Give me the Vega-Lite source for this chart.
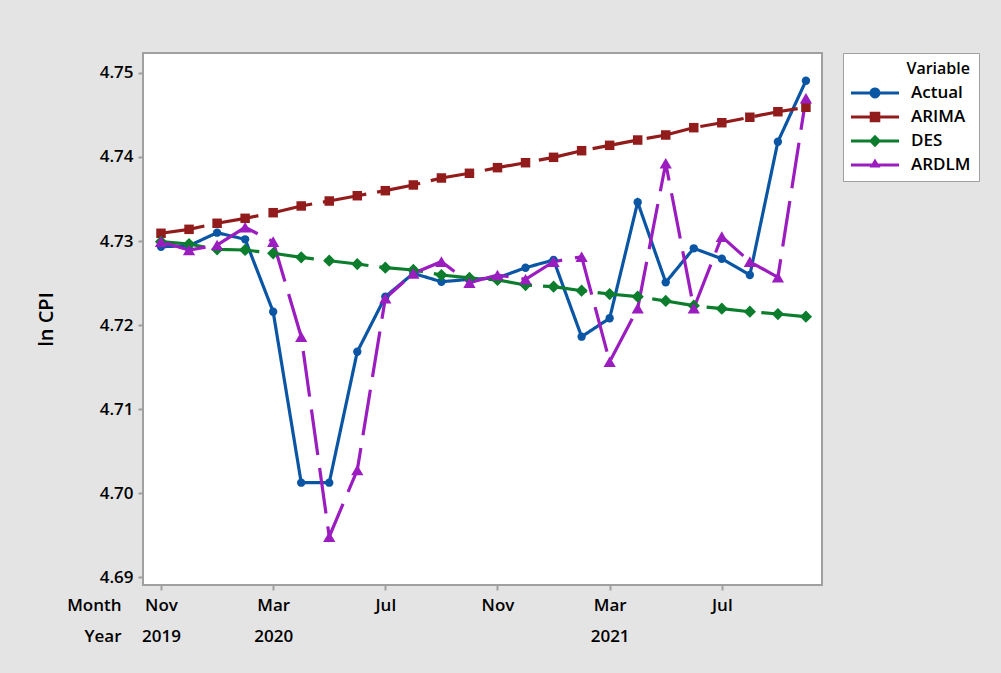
{
  "$schema": "https://vega.github.io/schema/vega-lite/v6.json",
  "autosize": {"type": "none"},
  "width": 679,
  "height": 532,
  "padding": {"left": 143, "top": 53, "right": 179, "bottom": 88},
  "background": "#e4e4e4",
  "config": {
    "view": {"stroke": "#a0a0a0", "strokeWidth": 2, "fill": "white"},
    "font": "Open Sans"
  },
  "datasets": {
    "cpi": [
      {"t": 0, "Date": "2019-11", "Variable": "Actual", "v": 4.72932},
      {"t": 1, "Date": "2019-12", "Variable": "Actual", "v": 4.72944},
      {"t": 2, "Date": "2020-01", "Variable": "Actual", "v": 4.73099},
      {"t": 3, "Date": "2020-02", "Variable": "Actual", "v": 4.73020},
      {"t": 4, "Date": "2020-03", "Variable": "Actual", "v": 4.72158},
      {"t": 5, "Date": "2020-04", "Variable": "Actual", "v": 4.70123},
      {"t": 6, "Date": "2020-05", "Variable": "Actual", "v": 4.70123},
      {"t": 7, "Date": "2020-06", "Variable": "Actual", "v": 4.71682},
      {"t": 8, "Date": "2020-07", "Variable": "Actual", "v": 4.72337},
      {"t": 9, "Date": "2020-08", "Variable": "Actual", "v": 4.72615},
      {"t": 10, "Date": "2020-09", "Variable": "Actual", "v": 4.72515},
      {"t": 11, "Date": "2020-10", "Variable": "Actual", "v": 4.72544},
      {"t": 12, "Date": "2020-11", "Variable": "Actual", "v": 4.72560},
      {"t": 13, "Date": "2020-12", "Variable": "Actual", "v": 4.72682},
      {"t": 14, "Date": "2021-01", "Variable": "Actual", "v": 4.72774},
      {"t": 15, "Date": "2021-02", "Variable": "Actual", "v": 4.71861},
      {"t": 16, "Date": "2021-03", "Variable": "Actual", "v": 4.72080},
      {"t": 17, "Date": "2021-04", "Variable": "Actual", "v": 4.73461},
      {"t": 18, "Date": "2021-05", "Variable": "Actual", "v": 4.72508},
      {"t": 19, "Date": "2021-06", "Variable": "Actual", "v": 4.72913},
      {"t": 20, "Date": "2021-07", "Variable": "Actual", "v": 4.72789},
      {"t": 21, "Date": "2021-08", "Variable": "Actual", "v": 4.72595},
      {"t": 22, "Date": "2021-09", "Variable": "Actual", "v": 4.74182},
      {"t": 23, "Date": "2021-10", "Variable": "Actual", "v": 4.74908},
      {"t": 0, "Date": "2019-11", "Variable": "ARIMA", "v": 4.73092},
      {"t": 1, "Date": "2019-12", "Variable": "ARIMA", "v": 4.73139},
      {"t": 2, "Date": "2020-01", "Variable": "ARIMA", "v": 4.73211},
      {"t": 3, "Date": "2020-02", "Variable": "ARIMA", "v": 4.73270},
      {"t": 4, "Date": "2020-03", "Variable": "ARIMA", "v": 4.73337},
      {"t": 5, "Date": "2020-04", "Variable": "ARIMA", "v": 4.73417},
      {"t": 6, "Date": "2020-05", "Variable": "ARIMA", "v": 4.73476},
      {"t": 7, "Date": "2020-06", "Variable": "ARIMA", "v": 4.73539},
      {"t": 8, "Date": "2020-07", "Variable": "ARIMA", "v": 4.73599},
      {"t": 9, "Date": "2020-08", "Variable": "ARIMA", "v": 4.73667},
      {"t": 10, "Date": "2020-09", "Variable": "ARIMA", "v": 4.73750},
      {"t": 11, "Date": "2020-10", "Variable": "ARIMA", "v": 4.73806},
      {"t": 12, "Date": "2020-11", "Variable": "ARIMA", "v": 4.73873},
      {"t": 13, "Date": "2020-12", "Variable": "ARIMA", "v": 4.73932},
      {"t": 14, "Date": "2021-01", "Variable": "ARIMA", "v": 4.73996},
      {"t": 15, "Date": "2021-02", "Variable": "ARIMA", "v": 4.74075},
      {"t": 16, "Date": "2021-03", "Variable": "ARIMA", "v": 4.74139},
      {"t": 17, "Date": "2021-04", "Variable": "ARIMA", "v": 4.74202},
      {"t": 18, "Date": "2021-05", "Variable": "ARIMA", "v": 4.74262},
      {"t": 19, "Date": "2021-06", "Variable": "ARIMA", "v": 4.74349},
      {"t": 20, "Date": "2021-07", "Variable": "ARIMA", "v": 4.74408},
      {"t": 21, "Date": "2021-08", "Variable": "ARIMA", "v": 4.74473},
      {"t": 22, "Date": "2021-09", "Variable": "ARIMA", "v": 4.74539},
      {"t": 23, "Date": "2021-10", "Variable": "ARIMA", "v": 4.74592},
      {"t": 0, "Date": "2019-11", "Variable": "DES", "v": 4.72992},
      {"t": 1, "Date": "2019-12", "Variable": "DES", "v": 4.72964},
      {"t": 2, "Date": "2020-01", "Variable": "DES", "v": 4.72901},
      {"t": 3, "Date": "2020-02", "Variable": "DES", "v": 4.72893},
      {"t": 4, "Date": "2020-03", "Variable": "DES", "v": 4.72854},
      {"t": 5, "Date": "2020-04", "Variable": "DES", "v": 4.72806},
      {"t": 6, "Date": "2020-05", "Variable": "DES", "v": 4.72765},
      {"t": 7, "Date": "2020-06", "Variable": "DES", "v": 4.72726},
      {"t": 8, "Date": "2020-07", "Variable": "DES", "v": 4.72682},
      {"t": 9, "Date": "2020-08", "Variable": "DES", "v": 4.72655},
      {"t": 10, "Date": "2020-09", "Variable": "DES", "v": 4.72595},
      {"t": 11, "Date": "2020-10", "Variable": "DES", "v": 4.72560},
      {"t": 12, "Date": "2020-11", "Variable": "DES", "v": 4.72536},
      {"t": 13, "Date": "2020-12", "Variable": "DES", "v": 4.72476},
      {"t": 14, "Date": "2021-01", "Variable": "DES", "v": 4.72456},
      {"t": 15, "Date": "2021-02", "Variable": "DES", "v": 4.72408},
      {"t": 16, "Date": "2021-03", "Variable": "DES", "v": 4.72369},
      {"t": 17, "Date": "2021-04", "Variable": "DES", "v": 4.72337},
      {"t": 18, "Date": "2021-05", "Variable": "DES", "v": 4.72286},
      {"t": 19, "Date": "2021-06", "Variable": "DES", "v": 4.72230},
      {"t": 20, "Date": "2021-07", "Variable": "DES", "v": 4.72194},
      {"t": 21, "Date": "2021-08", "Variable": "DES", "v": 4.72158},
      {"t": 22, "Date": "2021-09", "Variable": "DES", "v": 4.72131},
      {"t": 23, "Date": "2021-10", "Variable": "DES", "v": 4.72099},
      {"t": 0, "Date": "2019-11", "Variable": "ARDLM", "v": 4.72992},
      {"t": 1, "Date": "2019-12", "Variable": "ARDLM", "v": 4.72893},
      {"t": 2, "Date": "2020-01", "Variable": "ARDLM", "v": 4.72952},
      {"t": 3, "Date": "2020-02", "Variable": "ARDLM", "v": 4.73163},
      {"t": 4, "Date": "2020-03", "Variable": "ARDLM", "v": 4.72992},
      {"t": 5, "Date": "2020-04", "Variable": "ARDLM", "v": 4.71861},
      {"t": 6, "Date": "2020-05", "Variable": "ARDLM", "v": 4.69480},
      {"t": 7, "Date": "2020-06", "Variable": "ARDLM", "v": 4.70274},
      {"t": 8, "Date": "2020-07", "Variable": "ARDLM", "v": 4.72318},
      {"t": 9, "Date": "2020-08", "Variable": "ARDLM", "v": 4.72615},
      {"t": 10, "Date": "2020-09", "Variable": "ARDLM", "v": 4.72754},
      {"t": 11, "Date": "2020-10", "Variable": "ARDLM", "v": 4.72504},
      {"t": 12, "Date": "2020-11", "Variable": "ARDLM", "v": 4.72595},
      {"t": 13, "Date": "2020-12", "Variable": "ARDLM", "v": 4.72544},
      {"t": 14, "Date": "2021-01", "Variable": "ARDLM", "v": 4.72754},
      {"t": 15, "Date": "2021-02", "Variable": "ARDLM", "v": 4.72813},
      {"t": 16, "Date": "2021-03", "Variable": "ARDLM", "v": 4.71563},
      {"t": 17, "Date": "2021-04", "Variable": "ARDLM", "v": 4.72199},
      {"t": 18, "Date": "2021-05", "Variable": "ARDLM", "v": 4.73925},
      {"t": 19, "Date": "2021-06", "Variable": "ARDLM", "v": 4.72199},
      {"t": 20, "Date": "2021-07", "Variable": "ARDLM", "v": 4.73052},
      {"t": 21, "Date": "2021-08", "Variable": "ARDLM", "v": 4.72754},
      {"t": 22, "Date": "2021-09", "Variable": "ARDLM", "v": 4.72568},
      {"t": 23, "Date": "2021-10", "Variable": "ARDLM", "v": 4.74699}
    ]
  },
  "data": {"name": "cpi"},
  "encoding": {
    "x": {
      "field": "t",
      "type": "quantitative",
      "scale": {"domain": [-0.642, 23.573], "nice": false, "zero": false},
      "axis": {
        "values": [0, 4, 8, 12, 16, 20],
        "labelExpr": "datum.value == 0 ? ['Nov', '2019'] : datum.value == 4 ? ['Mar', '2020'] : datum.value == 8 ? ['Jul', ''] : datum.value == 12 ? ['Nov', ''] : datum.value == 16 ? ['Mar', '2021'] : ['Jul', '']",
        "labelLineHeight": 31,
        "labelFontSize": 17,
        "labelFontWeight": 600,
        "labelColor": "black",
        "labelPadding": 7,
        "labelOverlap": false,
        "labelFlush": false,
        "tickSize": 5,
        "tickWidth": 2,
        "tickColor": "#a0a0a0",
        "domain": false,
        "grid": false,
        "title": ["Month", "Year"],
        "titleX": -22,
        "titleY": 12,
        "titleAlign": "right",
        "titleBaseline": "top",
        "titleLineHeight": 31,
        "titleFontSize": 17,
        "titleFontWeight": 600,
        "titleColor": "black"
      }
    },
    "y": {
      "field": "v",
      "type": "quantitative",
      "scale": {"domain": [4.68905, 4.75238], "nice": false, "zero": false},
      "axis": {
        "values": [4.69, 4.7, 4.71, 4.72, 4.73, 4.74, 4.75],
        "format": ".2f",
        "labelFontSize": 17,
        "labelFontWeight": 600,
        "labelColor": "black",
        "labelPadding": 5,
        "tickSize": 5,
        "tickWidth": 2,
        "tickColor": "#a0a0a0",
        "domain": false,
        "grid": false,
        "title": "ln CPI",
        "titleFontSize": 20,
        "titleFontWeight": 600,
        "titleColor": "black",
        "titleX": -97,
        "titleY": 266,
        "titleAngle": -90,
        "titleAlign": "center",
        "titleBaseline": "middle"
      }
    }
  },
  "layer": [
    {
      "mark": {"type": "line", "strokeWidth": 3.2},
      "encoding": {
        "color": {
          "field": "Variable",
          "type": "nominal",
          "scale": {"domain": ["Actual", "ARIMA", "DES", "ARDLM"], "range": ["#0a56a4", "#921b1b", "#0b7d2c", "#9b1cbf"]},
          "legend": null
        },
        "strokeDash": {
          "field": "Variable",
          "type": "nominal",
          "scale": {"domain": ["Actual", "ARIMA", "DES", "ARDLM"], "range": [[1, 0], [44, 11], [44, 11], [46, 13]]},
          "legend": null
        }
      }
    },
    {
      "mark": {"type": "point", "filled": true, "opacity": 1},
      "encoding": {
        "color": {
          "field": "Variable",
          "type": "nominal",
          "scale": {"domain": ["Actual", "ARIMA", "DES", "ARDLM"], "range": ["#0a56a4", "#921b1b", "#0b7d2c", "#9b1cbf"]},
          "legend": null
        },
        "shape": {
          "field": "Variable",
          "type": "nominal",
          "scale": {"domain": ["Actual", "ARIMA", "DES", "ARDLM"], "range": ["circle", "square", "diamond", "triangle-up"]},
          "legend": null
        },
        "size": {
          "condition": [
            {"test": "datum.Variable == 'ARIMA'", "value": 90},
            {"test": "datum.Variable == 'DES'", "value": 150},
            {"test": "datum.Variable == 'ARDLM'", "value": 150}
          ],
          "value": 70
        }
      }
    },
    {
      "mark": {"type": "point", "filled": true, "opacity": 0},
      "encoding": {
        "color": {
          "field": "Variable",
          "type": "nominal",
          "scale": {"domain": ["Actual", "ARIMA", "DES", "ARDLM"], "range": ["#0a56a4", "#921b1b", "#0b7d2c", "#9b1cbf"]},
          "legend": {
            "orient": "none",
            "legendX": 700,
            "legendY": 0,
            "title": "Variable",
            "titleFontSize": 16,
            "titleFontWeight": 600,
            "titleColor": "black",
            "titleAnchor": "end",
            "titlePadding": 4,
            "labelFontSize": 17,
            "labelFontWeight": 600,
            "labelColor": "black",
            "symbolSize": 576,
            "symbolOffset": 12,
            "labelOffset": 24,
            "rowPadding": 4,
            "padding": 8,
            "fillColor": "white",
            "strokeColor": "#a0a0a0",
            "symbolOpacity": 1,
            "symbolStrokeWidth": 0,
            "encode": {"legend": {"strokeWidth": {"value": 2}}}
          }
        },
        "shape": {
          "field": "Variable",
          "type": "nominal",
          "scale": {
            "domain": ["Actual", "ARIMA", "DES", "ARDLM"],
            "range": [
              "M-2,-0.13H-0.44A0.46,0.46 0 0,1 0.44,-0.13H2V0.13H0.44A0.46,0.46 0 0,1 -0.44,0.13H-2Z",
              "M-2,-0.13H-0.44V-0.44H0.44V-0.13H2V0.13H0.44V0.44H-0.44V0.13H-2Z",
              "M-2,-0.13H-0.39L0,-0.52L0.39,-0.13H2V0.13H0.39L0,0.52L-0.39,0.13H-2Z",
              "M-2,-0.13H-0.25L0,-0.55L0.25,-0.13H2V0.13H0.41L0.45,0.2H-0.45L-0.41,0.13H-2Z"
            ]
          },
          "legend": {
            "orient": "none",
            "legendX": 700,
            "legendY": 0,
            "title": "Variable",
            "titleFontSize": 16,
            "titleFontWeight": 600,
            "titleColor": "black",
            "titleAnchor": "end",
            "titlePadding": 4,
            "labelFontSize": 17,
            "labelFontWeight": 600,
            "labelColor": "black",
            "symbolSize": 576,
            "symbolOffset": 12,
            "labelOffset": 24,
            "rowPadding": 4,
            "padding": 8,
            "fillColor": "white",
            "strokeColor": "#a0a0a0",
            "symbolOpacity": 1,
            "symbolStrokeWidth": 0,
            "encode": {"legend": {"strokeWidth": {"value": 2}}}
          }
        }
      }
    }
  ],
  "resolve": {"scale": {"shape": "independent", "color": "independent"}}
}
